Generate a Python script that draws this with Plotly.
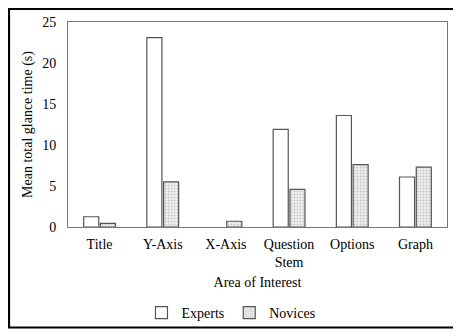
import plotly.graph_objects as go

areas = ["Title", "Y-Axis", "X-Axis", "Question<br>Stem", "Options", "Graph"]
experts = [1.25, 23.1, 0.0, 11.9, 13.6, 6.1]
novices = [0.45, 5.5, 0.7, 4.6, 7.6, 7.3]
y_ticks = [0, 5, 10, 15, 20, 25]

SERIF = "Liberation Serif, Times New Roman, serif"
# page body has an 8px margin, so the figure is 8px smaller than the window
W, H = 453, 328
L, R, T, B = 60, 14, 14, 109

fig = go.Figure()
fig.add_trace(go.Bar(
    x=areas, y=experts, name="Experts",
    marker=dict(color="white",
                line=dict(color="#555", width=[0 if v == 0 else 1.2 for v in experts])),
))
fig.add_trace(go.Bar(
    x=areas, y=novices, name="Novices",
    marker=dict(color="#e4e4e4", line=dict(color="#555", width=1.2),
                pattern=dict(shape=".", fgcolor="#999", bgcolor="#efefef",
                             size=3, solidity=0.3)),
))

pw, ph = W - L - R, H - T - B
# outer black frame around the whole figure (paper coords)
fig.add_shape(type="rect", xref="paper", yref="paper", layer="above",
              x0=(1 - L) / pw, x1=(447 - L) / pw,
              y0=(H - B - 319.5) / ph, y1=(H - B - 1) / ph,
              line=dict(color="black", width=2.2))

fig.update_layout(
    width=W, height=H,
    margin=dict(l=L, r=R, t=T, b=B, autoexpand=False),
    paper_bgcolor="white", plot_bgcolor="white",
    font=dict(family=SERIF, size=14, color="black"),
    barmode="group", bargap=0.47, bargroupgap=0.1,
    showlegend=True,
    legend=dict(orientation="h", x=0.43, xanchor="center",
                y=(H - B - 305) / ph, yanchor="middle",
                bgcolor="rgba(0,0,0,0)",
                font=dict(size=14), itemwidth=30, traceorder="normal"),
    xaxis=dict(showline=True, linecolor="#777", linewidth=1, mirror=True,
               ticks="outside", ticklen=4, tickcolor="rgba(0,0,0,0)",
               tickfont=dict(size=14), automargin=False,
               title=dict(text="Area of Interest", font=dict(size=14), standoff=8)),
    yaxis=dict(range=[0, 25], tickvals=y_ticks, showgrid=False, zeroline=False,
               showline=True, linecolor="#777", linewidth=1, mirror=True,
               ticks="outside", ticklen=8, tickcolor="rgba(0,0,0,0)",
               tickfont=dict(size=14), automargin=False,
               title=dict(text="Mean total glance time (s)", font=dict(size=14),
                          standoff=6)),
)

fig.write_html("out.html")
